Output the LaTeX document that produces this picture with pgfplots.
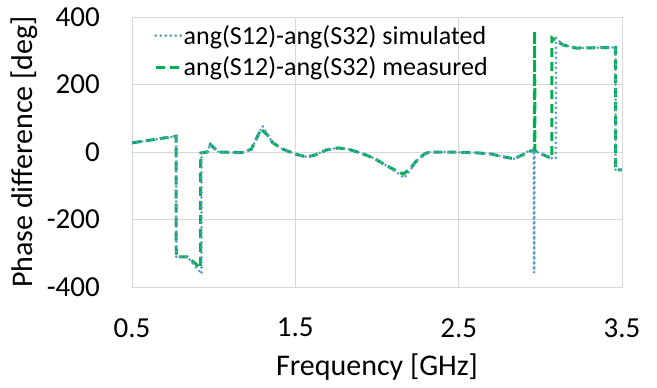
\documentclass[border=0pt]{standalone}
\usepackage{fontspec}
\setmainfont{Carlito}
\usepackage{pgfplots}
\pgfplotsset{compat=1.18}
\definecolor{simblue}{HTML}{5B9BD5}
\definecolor{meagreen}{HTML}{00B050}
\definecolor{gridgray}{HTML}{D9D9D9}
\begin{document}
\begin{tikzpicture}
\begin{axis}[
  scale only axis, width=490pt, height=270pt,
  xmin=0.5, xmax=3.5, ymin=-400, ymax=400,
  xtick={0.5,1.5,2.5,3.5}, ytick={-400,-200,0,200,400},
  xticklabel style={/pgf/number format/fixed,/pgf/number format/fixed zerofill,/pgf/number format/precision=1},
  /pgf/number format/assume math mode=true,
  major tick length=0pt,
  grid=major,
  grid style={gridgray, line width=0.8pt},
  axis line style={gridgray, line width=0.8pt},
  tick label style={font=\fontsize{29}{34}\selectfont, inner sep=0pt},
  xticklabel style={yshift=-31pt},
  yticklabel style={xshift=-32pt},
  xlabel={Frequency [GHz]},
  ylabel={Phase difference [deg]},
  label style={font=\fontsize{30}{36}\selectfont, inner sep=0pt},
  xlabel style={at={(axis description cs:0.5,0)}, anchor=north, yshift=-67pt},
  ylabel style={at={(axis description cs:-0.22,0.5)}, anchor=center},
  legend style={at={(axis description cs:0.045,0.975)}, anchor=north west,
    draw=none, fill=none, inner sep=0pt, row sep=8pt,
    font=\fontsize{26}{31}\selectfont,
    nodes={inner sep=1.5pt}},
  legend cell align=left,
  reverse legend,
  legend image code/.code={\draw[#1] (0pt,0pt) -- (25pt,0pt);},
]
\addplot[meagreen, line width=3pt, dash pattern=on 9pt off 5pt] coordinates {
(0.5,27) (0.77,47) (0.771,-311) (0.84,-311) (0.92,-344) (0.921,-3)
(0.96,0) (0.98,22) (1.03,0) (1.10,-1) (1.17,-2) (1.23,8) (1.29,68)
(1.33,50) (1.36,28) (1.42,9) (1.5,-6) (1.57,-15) (1.62,-9) (1.69,6)
(1.76,12) (1.82,9) (1.90,-3) (1.98,-18) (2.06,-41) (2.12,-56) (2.16,-65)
(2.20,-52) (2.24,-27) (2.29,-6) (2.32,0) (2.45,0) (2.6,-2) (2.7,-6)
(2.77,-14) (2.84,-20) (2.94,3) (2.963,3) (2.965,358) (2.967,3)
(3.05,-15) (3.07,-18) (3.071,338) (3.14,317) (3.22,308) (3.46,310)
(3.461,-53) (3.5,-53)
};
\addlegendentry{ang(S12)-ang(S32) measured}
\addplot[simblue, line width=3pt, line cap=round, dash pattern=on 0pt off 5pt] coordinates {
(0.5,27) (0.77,47) (0.771,-311) (0.84,-311) (0.925,-361) (0.926,-3)
(0.96,0) (0.98,24) (1.03,0) (1.10,-1) (1.17,-2) (1.23,8) (1.30,77)
(1.33,52) (1.36,28) (1.42,9) (1.5,-6) (1.57,-15) (1.62,-9) (1.69,6)
(1.76,12) (1.82,9) (1.90,-3) (1.98,-18) (2.06,-41) (2.12,-60) (2.165,-77)
(2.20,-56) (2.24,-27) (2.29,-6) (2.32,0) (2.45,0) (2.6,-2) (2.7,-6)
(2.77,-14) (2.84,-20) (2.94,6) (2.96,5) (2.962,-358) (2.964,3)
(3.08,-20) (3.095,-20) (3.096,338) (3.14,317) (3.22,308) (3.46,310)
(3.461,-53) (3.5,-53)
};
\addlegendentry{ang(S12)-ang(S32) simulated}
\end{axis}
\path (current axis.south west) ++(-132pt,-101pt) rectangle ++(657pt,388pt);
\end{tikzpicture}
\end{document}
